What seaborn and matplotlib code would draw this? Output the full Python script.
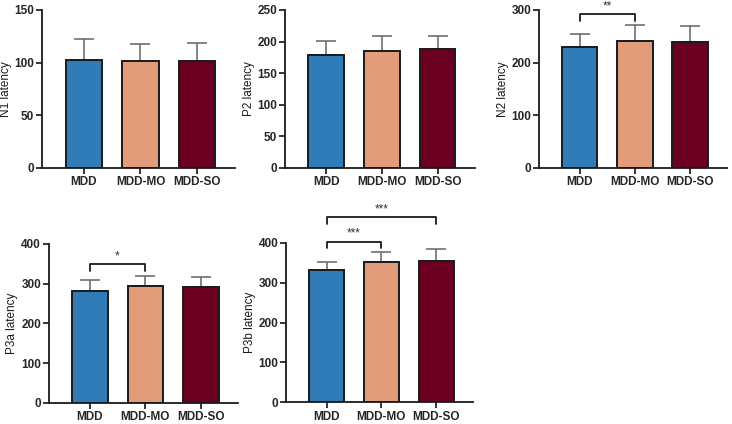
import numpy as np
import pandas as pd
import matplotlib
matplotlib.use('Agg')
import matplotlib.pyplot as plt
import seaborn as sns

sns.set_theme(style='ticks')
plt.rcParams['font.family'] = ['Liberation Sans', 'DejaVu Sans']

# ==================== 数据 ====================
groups = ['MDD', 'MDD-MO', 'MDD-SO']
colors = ['#2F7CB9', '#E39C7A', '#6B0020']

n1_mean = [102.5, 101.9, 102.0]
n1_sd = [20.0, 15.5, 17.0]

p2_mean = [178.3, 185.6, 187.8]
p2_sd = [22.7, 23.4, 21.5]

n2_mean = [229.7, 241.7, 239.2]
n2_sd = [25.3, 29.3, 29.8]

p3a_mean = [282.0, 293.0, 291.6]
p3a_sd = [26.5, 27.0, 26.0]

p3b_mean = [332.0, 352.0, 354.0]
p3b_sd = [18.7, 25.0, 30.0]

# 每个面板: (标签, 均值, 标准差, y上限, y刻度步长, 显著性标注)
# 显著性: (组i, 组j, 横线高度, 竖线下端, 星号)
panels = [
    ('N1 latency', n1_mean, n1_sd, 150, 50, []),
    ('P2 latency', p2_mean, p2_sd, 250, 50, []),
    ('N2 latency', n2_mean, n2_sd, 300, 100, [(0, 1, 292, 280, '**')]),
    ('P3a latency', p3a_mean, p3a_sd, 400, 100, [(0, 1, 349, 333, '*')]),
    ('P3b latency', p3b_mean, p3b_sd, 400, 100,
     [(0, 1, 403, 387, '***'), (0, 2, 465, 448, '***')]),
]

# 坐标轴位置（像素换算）
W, H = 732, 424
boxes = [
    (42, 235, 10, 168),
    (285, 475, 10, 168),
    (539, 727, 10, 168),
    (48.7, 238, 244, 402.7),
    (286, 473, 242.7, 402.3),
]

fig = plt.figure(figsize=(7.32, 4.24), dpi=100)

for (label, mean, sd, ymax, step, sigs), (x0, x1, yt, yb) in zip(panels, boxes):
    ax = fig.add_axes([x0 / W, 1 - yb / H, (x1 - x0) / W, (yb - yt) / H])
    df = pd.DataFrame({'group': groups, 'value': mean})
    ax.errorbar(np.arange(3), mean, yerr=[np.zeros(3), sd], fmt='none',
                ecolor='#707070', elinewidth=1.2, capsize=7, capthick=1.2, zorder=1)
    sns.barplot(data=df, x='group', y='value', hue='group', palette=colors,
                saturation=1, edgecolor='#1a1a1a', linewidth=1.4, width=0.64,
                ax=ax, legend=False, zorder=2)
    ax.set_xlim(-0.74, 2.67)
    ax.set_ylim(0, ymax)
    ax.set_yticks(np.arange(0, ymax + 1, step))
    ax.set_xlabel('')
    ax.set_ylabel(label, fontsize=8.5, labelpad=2, color='#1a1a1a')
    ax.tick_params(axis='y', labelsize=8.5, width=1.3, length=4, pad=1.5)
    ax.tick_params(axis='x', labelsize=8.5, width=1.3, length=4.5, pad=1.5)
    for t in ax.get_xticklabels() + ax.get_yticklabels():
        t.set_fontweight('bold')
    for s in ['top', 'right']:
        ax.spines[s].set_visible(False)
    for s in ['left', 'bottom']:
        ax.spines[s].set_linewidth(1.3)
        ax.spines[s].set_color('#1a1a1a')
    ax.patch.set_alpha(0)

    for i, j, yh, ylow, stars in sigs:
        ax.plot([i, i, j, j], [ylow, yh, yh, ylow], color='#1a1a1a',
                linewidth=1.3, clip_on=False)
        ax.text((i + j) / 2, yh + ymax * 0.01, stars, ha='center', va='bottom',
                fontsize=8.5, color='#333333')

fig.savefig('out.png', dpi=100)
